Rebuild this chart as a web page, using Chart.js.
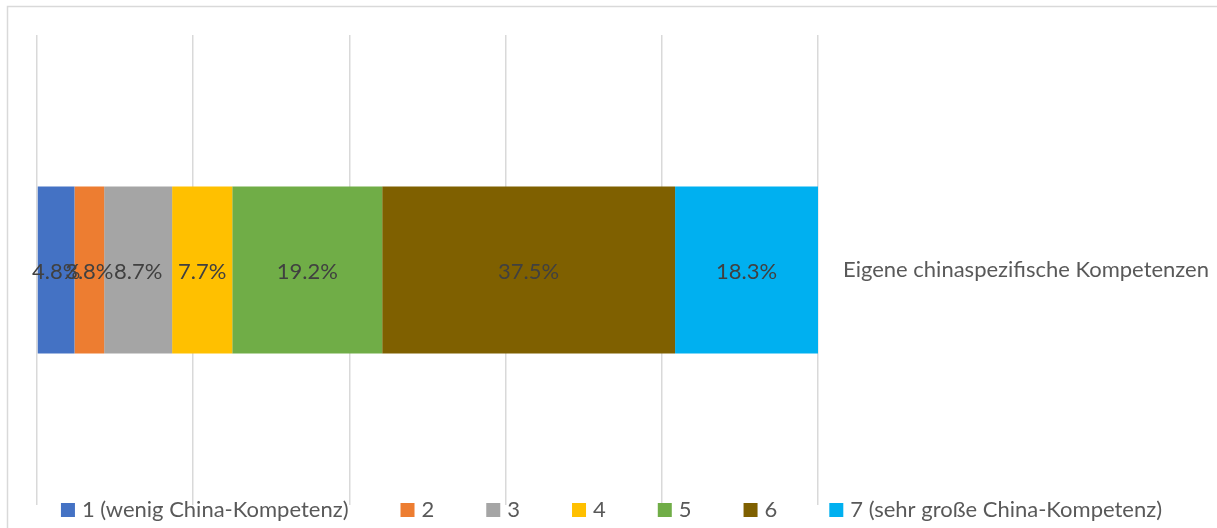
<!DOCTYPE html>
<html>
<head>
<meta charset="utf-8">
<script src="https://cdn.jsdelivr.net/npm/chart.js@4"></script>
<style>
    html, body { margin: 0; padding: 0; background: #fff; }
    #wrap { position: relative; width: 1217px; height: 528px; }
</style>
</head>
<body>
<div id="wrap"><canvas id="grafik"></canvas></div>
<script>

const kategorien = ['Eigene chinaspezifische Kompetenzen'];
const stufen = ['1 (wenig China-Kompetenz)', '2', '3', '4', '5', '6', '7 (sehr große China-Kompetenz)'];
const anteile = [4.8, 3.8, 8.7, 7.7, 19.2, 37.5, 18.3];
const farben = ['#4472C4', '#ED7D31', '#A5A5A5', '#FFC000', '#70AD47', '#7F6000', '#00B0F0'];

const schrift = 'Lato, "Open Sans", sans-serif';

// thin frame at top and left like the exported Excel chart
const rahmen = {
    id: 'rahmen',
    beforeDraw(chart) {
        const ctx = chart.ctx;
        ctx.save();
        ctx.strokeStyle = '#d9d9d9';
        ctx.lineWidth = 1.5;
        ctx.beginPath();
        ctx.moveTo(chart.width, 6.5);
        ctx.lineTo(7.5, 6.5);
        ctx.lineTo(7.5, chart.height);
        ctx.stroke();
        ctx.restore();
    }
};

// values inside each segment
const wertLabels = {
    id: 'wertLabels',
    afterDatasetsDraw(chart) {
        const ctx = chart.ctx;
        ctx.save();
        ctx.font = '22px ' + schrift;
        ctx.fillStyle = '#404040';
        ctx.textAlign = 'center';
        ctx.textBaseline = 'middle';
        chart.data.datasets.forEach((ds, i) => {
            const meta = chart.getDatasetMeta(i);
            meta.data.forEach((bar, j) => {
                const p = bar.getProps(['x', 'y', 'base'], true);
                ctx.fillText(ds.data[j].toFixed(1) + '%', (p.x + p.base) / 2, p.y + 2);
            });
        });
        ctx.restore();
    }
};

// legend drawn by hand so it can sit on the bottom edge of the plot area
const legende = {
    id: 'legende',
    afterDraw(chart) {
        const ctx = chart.ctx;
        const box = 14, abstand = 7, luecke = 52, y = 510;
        ctx.save();
        ctx.font = '22px ' + schrift;
        ctx.textBaseline = 'middle';
        const breiten = chart.data.datasets.map(ds => box + abstand + ctx.measureText(ds.label).width);
        const gesamt = breiten.reduce((a, b) => a + b, 0) + luecke * (breiten.length - 1);
        let x = chart.width / 2 - gesamt / 2 + 3;
        chart.data.datasets.forEach((ds, i) => {
            ctx.fillStyle = ds.backgroundColor;
            ctx.fillRect(x, y - box / 2, box, box);
            ctx.fillStyle = '#595959';
            ctx.fillText(ds.label, x + box + abstand, y);
            x += breiten[i] + luecke;
        });
        ctx.restore();
    }
};

new Chart(document.getElementById('grafik').getContext('2d'), {
    type: 'bar',
    data: {
        labels: kategorien,
        datasets: stufen.map((s, i) => ({
            label: s,
            data: [anteile[i]],
            backgroundColor: farben[i],
            borderWidth: 0,
            barPercentage: 0.355,
            categoryPercentage: 1
        }))
    },
    options: {
        indexAxis: 'y',
        responsive: true,
        maintainAspectRatio: false,
        animation: false,
        layout: {
            padding: { top: 35, left: 37, bottom: 23, right: 0 }
        },
        plugins: {
            legend: { display: false },
            tooltip: { enabled: false }
        },
        scales: {
            x: {
                stacked: true,
                min: 0,
                max: 100,
                ticks: { display: false, stepSize: 20 },
                grid: { color: '#d9d9d9', lineWidth: 1.5, drawTicks: false },
                border: { display: false }
            },
            y: {
                stacked: true,
                position: 'right',
                grid: { display: false, drawTicks: false },
                border: { display: false },
                ticks: {
                    padding: 25,
                    color: '#595959',
                    font: { family: schrift, size: 22 }
                },
                afterFit(scale) {
                    // fixed width, and no extra top/bottom padding from the tick padding
                    scale.width = 399;
                    scale.paddingTop = 0;
                    scale.paddingBottom = 0;
                }
            }
        }
    },
    plugins: [rahmen, wertLabels, legende]
});
</script>
</body>
</html>
